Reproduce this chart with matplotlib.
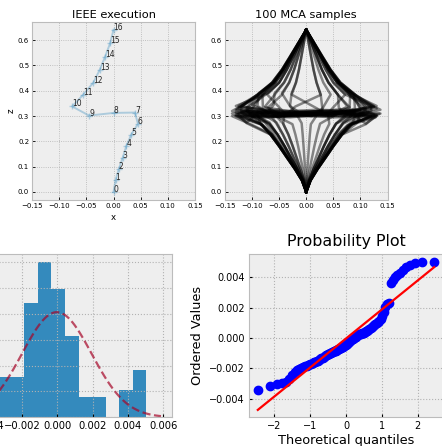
import numpy as np
import matplotlib
matplotlib.use("Agg")
import matplotlib.pyplot as plt
from statistics import NormalDist

plt.style.use("bmh")
plt.rcParams['font.family'] = ['DejaVu Sans']

# ---------------- data ----------------
IEEE_X = [0.0, 0.0037, 0.0099, 0.0167, 0.0235, 0.0327, 0.045, 0.0395, 0.0,
          -0.045, -0.076, -0.056, -0.037, -0.0253, -0.0154, -0.0062, 0.0]
IEEE_Z = [0.0, 0.046, 0.091, 0.134, 0.181, 0.227, 0.269, 0.314, 0.3125,
          0.302, 0.338, 0.384, 0.4325, 0.483, 0.535, 0.588, 0.641]

# MCA sample trajectories (x of the 17 points)
MCA_X = [
    [0, .008, .021, .035, .050, .066, .085, .125, .04, -.05, -.125, -.090, -.063, -.045, -.030, -.015, 0],
    [0, .0076, .020, .033, .0475, .063, .081, .115, .03, -.06, -.12, -.0855, -.060, -.043, -.0285, -.014, 0],
    [0, .0072, .019, .0315, .045, .059, .0765, .13, .05, -.03, -.13, -.090, -.063, -.045, -.030, -.015, 0],
    [0, .008, .021, .035, .050, .066, .095, .10, .02, -.07, -.10, -.072, -.050, -.036, -.024, -.012, 0],
    [0, .0078, .0205, .034, .049, .064, .083, .135, .06, -.01, -.11, -.088, -.061, -.044, -.029, -.0146, 0],
    [0, -.008, -.021, -.035, -.050, -.066, -.085, -.125, -.04, .05, .125, .090, .063, .045, .030, .015, 0],
    [0, -.0076, -.020, -.033, -.0475, -.063, -.081, -.13, -.05, .04, .12, .0855, .060, .043, .0285, .014, 0],
    [0, -.008, -.021, -.035, -.050, -.066, -.085, -.11, -.02, .06, .13, .081, .057, .0405, .027, .0135, 0],
    [0, -.0064, -.0168, -.028, -.040, -.053, -.068, -.10, -.03, .07, .11, .090, .063, .045, .030, .015, 0],
    [0, -.0078, -.0205, -.034, -.049, -.064, -.10, -.137, -.07, .0, .10, .088, .061, .044, .029, .0146, 0],
    [0, .008, .021, .035, .050, .066, .085, .137, .09, .12, .12, .090, .063, .045, .030, .015, 0],
    [0, .0076, .020, .033, .0475, .063, .081, .12, .07, .10, .11, .081, .057, .0405, .027, .0135, 0],
    [0, .0064, .0168, .028, .040, .053, .068, .11, .05, .08, .125, .0855, .060, .043, .0285, .014, 0],
    [0, .008, .021, .035, .050, .066, .11, .13, .11, .08, .13, .072, .050, .036, .024, .012, 0],
    [0, -.008, -.021, -.035, -.050, -.066, -.085, -.137, -.09, -.12, -.12, -.090, -.063, -.045, -.030, -.015, 0],
    [0, -.0076, -.020, -.033, -.0475, -.063, -.081, -.12, -.07, -.10, -.11, -.081, -.057, -.0405, -.027, -.0135, 0],
    [0, -.0064, -.0168, -.028, -.040, -.053, -.068, -.11, -.05, -.08, -.125, -.0855, -.060, -.043, -.0285, -.014, 0],
    [0, -.008, -.021, -.035, -.050, -.066, -.11, -.13, -.11, -.08, -.13, -.072, -.050, -.036, -.024, -.012, 0],
    [0, .0052, .0137, .0228, .0325, .043, .055, .08, .01, -.06, -.07, -.045, -.0315, -.0225, -.015, -.0075, 0],
    [0, -.004, -.0105, -.0175, -.025, -.033, -.0425, -.06, 0, .05, .08, .0585, .041, .029, .0195, .0098, 0],
    [0, .0024, .0063, .0105, .015, .020, .0255, .06, 0, -.04, -.02, .027, .019, .0135, .009, .0045, 0],
    [0, -.0024, -.0063, -.0105, -.015, -.020, -.0255, -.06, 0, .04, .02, -.027, -.019, -.0135, -.009, -.0045, 0],
    [0, .004, .0105, .0175, .025, .033, .0425, .04, 0, -.045, -.076, -.0585, -.041, -.029, -.0195, -.0098, 0],
    [0, -.004, -.0105, -.0175, -.025, -.033, -.0425, -.04, 0, .045, .076, .0585, .041, .029, .0195, .0098, 0],
    [0, .0064, .0168, .028, .040, .053, .068, .09, .03, -.02, -.03, -.027, -.019, -.0135, -.009, -.0045, 0],
    [0, -.0064, -.0168, -.028, -.040, -.053, -.068, -.09, -.03, .02, .03, .027, .019, .0135, .009, .0045, 0],
    [0, -.0052, -.0137, -.0228, -.0325, -.043, -.055, -.09, -.05, -.07, -.06, -.0585, -.041, -.029, -.0195, -.0098, 0],
    [0, .0052, .0137, .0228, .0325, .043, .055, .09, .05, .07, .06, .0585, .041, .029, .0195, .0098, 0],
    [0, .0008, .0021, .0035, .005, .0066, .0085, .02, -.03, .01, .03, .045, .0315, .0225, .015, .0075, 0],
    [0, -.0008, -.0021, -.0035, -.005, -.0066, -.0085, -.02, .03, -.01, -.03, -.045, -.0315, -.0225, -.015, -.0075, 0],
    [0, .0078, .0205, .034, .049, .064, .083, .12, .06, 0, -.08, -.081, -.057, -.0405, -.027, -.0135, 0],
    [0, -.0078, -.0205, -.034, -.049, -.064, -.083, -.12, -.06, 0, .08, .081, .057, .0405, .027, .0135, 0],
    [0, .0072, .019, .0315, .045, .059, .0765, .128, .10, .06, .09, .088, .061, .044, .029, .0146, 0],
    [0, -.0072, -.019, -.0315, -.045, -.059, -.0765, -.128, -.10, -.06, -.09, -.088, -.061, -.044, -.029, -.0146, 0],
    [0, .0064, .0168, .028, .040, .053, .068, .105, 0, -.09, -.137, -.0855, -.060, -.043, -.0285, -.014, 0],
    [0, -.0064, -.0168, -.028, -.040, -.053, -.068, -.105, 0, .09, .137, .0855, .060, .043, .0285, .014, 0],
    [0, .008, .021, .035, .050, .066, .085, .09, .11, .13, .10, .081, .057, .0405, .027, .0135, 0],
    [0, -.008, -.021, -.035, -.050, -.066, -.085, -.09, -.11, -.13, -.10, -.081, -.057, -.0405, -.027, -.0135, 0],
    [0, .0052, .0137, .0228, .0325, .043, .055, .07, .09, .04, .05, .072, .050, .036, .024, .012, 0],
    [0, -.0052, -.0137, -.0228, -.0325, -.043, -.055, -.07, -.09, -.04, -.05, -.072, -.050, -.036, -.024, -.012, 0],
]
Z_LOW = [0.0, 0.046, 0.091, 0.134, 0.181, 0.227]
Z_HIGH = [0.4325, 0.483, 0.535, 0.588, 0.641]
MCA_ZMID = [
    [.268, .305, .31, .30, .33, .385], [.272, .315, .32, .31, .34, .39],
    [.265, .30, .295, .305, .325, .38], [.275, .32, .325, .315, .345, .39],
    [.27, .31, .315, .305, .335, .385], [.27, .31, .315, .305, .335, .385],
    [.265, .30, .30, .31, .33, .38], [.275, .32, .32, .315, .34, .39],
    [.27, .315, .31, .30, .335, .385], [.265, .30, .295, .305, .325, .38],
    [.27, .31, .30, .32, .335, .385], [.265, .30, .31, .305, .33, .38],
    [.275, .32, .31, .32, .34, .39], [.268, .305, .31, .30, .33, .385],
    [.27, .31, .305, .32, .335, .385], [.265, .30, .31, .30, .33, .38],
    [.275, .32, .315, .325, .34, .39], [.272, .315, .32, .31, .34, .39],
    [.27, .31, .31, .30, .335, .384], [.27, .31, .315, .30, .335, .384],
    [.27, .312, .31, .30, .338, .384], [.268, .305, .31, .30, .33, .385],
    [.269, .314, .3125, .302, .338, .384], [.269, .314, .3125, .302, .338, .384],
    [.272, .315, .32, .31, .34, .39], [.265, .30, .295, .305, .325, .38],
    [.275, .32, .325, .315, .345, .39], [.27, .31, .315, .305, .335, .385],
    [.268, .305, .31, .30, .33, .385], [.272, .315, .32, .31, .34, .39],
    [.27, .30, .32, .31, .335, .385], [.268, .315, .305, .315, .33, .38],
    [.262, .295, .30, .31, .33, .385], [.275, .325, .31, .30, .34, .39],
    [.27, .31, .30, .295, .32, .38], [.27, .305, .30, .30, .325, .38],
    [.27, .30, .27, .30, .335, .385], [.272, .31, .275, .305, .33, .385],
    [.27, .30, .32, .31, .335, .385], [.27, .32, .30, .31, .335, .385],
]

SAMPLES = [
    -0.00340, -0.00318, -0.00302, -0.00295, -0.00288, -0.00270,
    -0.00245, -0.00225, -0.00212, -0.00204, -0.00197, -0.00191,
    -0.00186, -0.00181, -0.00177, -0.00172, -0.00168, -0.00164, -0.00160, -0.00156,
    -0.00152, -0.00148, -0.00143, -0.00139, -0.00134, -0.00129, -0.00124, -0.00119, -0.00114,
    -0.00109, -0.00106, -0.00103, -0.00100, -0.00097, -0.00094, -0.00091, -0.00088,
    -0.00085, -0.00082, -0.00079, -0.00076, -0.00073, -0.00070, -0.00067, -0.00064,
    -0.00060, -0.00056, -0.00052, -0.00048, -0.00044, -0.00040, -0.00036,
    -0.00032, -0.00026, -0.00020, -0.00014, -0.00008, -0.00003, 0.00002, 0.00006,
    0.00010, 0.00014, 0.00018, 0.00021, 0.00024, 0.00027, 0.00030, 0.00033, 0.00035,
    0.00037, 0.00040,
    0.00045, 0.00050, 0.00055, 0.00060, 0.00066, 0.00072, 0.00078, 0.00085, 0.00092,
    0.00099, 0.00106, 0.00114,
    0.00125, 0.00145, 0.00175,
    0.00205, 0.00222, 0.00232,
    0.00362, 0.00385, 0.00400, 0.00415,
    0.00430, 0.00452, 0.00470, 0.00485, 0.00494, 0.00499, 0.00504,
]
N_BINS = 11

# ---------------- figure ----------------
W, H = 442, 446
fig = plt.figure(figsize=(W / 100, H / 100), dpi=100)

def box(l, t, r, b):
    return [l / W, 1 - b / H, (r - l) / W, (b - t) / H]

ax1 = fig.add_axes(box(32, 21.7, 195, 200.1))
ax2 = fig.add_axes(box(225, 21.7, 387.5, 200.1), sharey=ax1)
ax3 = fig.add_axes(box(-57.6, 254.3, 172.3, 417.3))
ax4 = fig.add_axes(box(249, 254.3, 443, 417.3))

small_tick = 5.0
for ax in (ax1, ax2):
    ax.tick_params(labelsize=small_tick, length=2, width=0.6, pad=2)
    ax.grid(True, linestyle=':', linewidth=0.6, color='#b2b2b2')
    for s in ax.spines.values():
        s.set_linewidth(0.8)

# IEEE execution
ax1.plot(IEEE_X, IEEE_Z, '-+', color='#348ABD', alpha=0.35, lw=1.4, ms=4)
for i, (x, z) in enumerate(zip(IEEE_X, IEEE_Z)):
    ax1.text(x, z, str(i), fontsize=5.5, color='#222222')
ax1.set_xlim(-0.15, 0.15)
ax1.set_title('IEEE execution', fontsize=8.2, pad=3)
ax1.set_xlabel('x', fontsize=6.2, labelpad=3)
ax1.set_ylabel('z', fontsize=6.2, labelpad=2)

# MCA samples
for xs, zm in zip(MCA_X, MCA_ZMID):
    zs = Z_LOW + list(zm) + Z_HIGH
    ax2.plot(xs, zs, '-', color='black', alpha=0.45, lw=1.8)
ax2.set_xlim(-0.15, 0.15)
ax2.set_title('100 MCA samples', fontsize=8.2, pad=3)

# histogram + fitted normal
samples = np.array(SAMPLES)
mu, sigma = samples.mean(), samples.std()
ax3.hist(samples, bins=N_BINS, density=True, color='#348ABD')
xs = np.linspace(mu - 3 * sigma, mu + 3 * sigma, 100)
pdf = np.exp(-0.5 * ((xs - mu) / sigma) ** 2) / (sigma * np.sqrt(2 * np.pi))
ax3.plot(xs, pdf, '--', color='#A60628', alpha=0.7, lw=1.6)
ax3.set_xlim(-0.0065, 0.00651)
ax3.tick_params(labelsize=7.2, length=2.5, pad=3)

# probability plot
n = len(samples)
m = np.empty(n)
m[-1] = 0.5 ** (1.0 / n)
m[0] = 1 - m[-1]
m[1:-1] = (np.arange(2, n) - 0.3175) / (n + 0.365)
osm = np.array([NormalDist().inv_cdf(p) for p in m])
osr = np.sort(samples)
slope, intercept = np.polyfit(osm, osr, 1)
ax4.plot(osm, osr, 'bo', ms=6)
ax4.plot(osm, slope * osm + intercept, 'r-', lw=1.6)
ax4.set_title('Probability Plot', fontsize=11.4)
ax4.set_xlabel('Theoretical quantiles', fontsize=9.3, labelpad=2)
ax4.set_ylabel('Ordered Values', fontsize=9.3)
ax4.tick_params(labelsize=7.0, length=2.5, pad=3)

for ax in (ax3, ax4):
    ax.grid(True, linestyle=':', linewidth=0.8, color='#b2b2b2')

fig.savefig('out.png', dpi=100)
